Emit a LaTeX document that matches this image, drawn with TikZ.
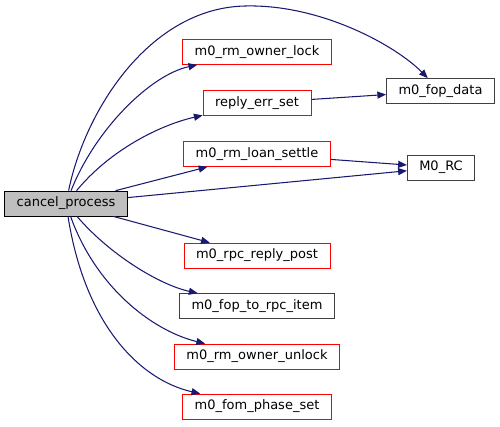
\documentclass[tikz,border=0pt]{standalone}
\usepackage{fontspec}
\setmainfont{DejaVu Sans}
\usepackage{xcolor}
\usetikzlibrary{arrows.meta,positioning,calc}

\definecolor{edgeblue}{HTML}{191970}
\definecolor{boxgray}{HTML}{BFBFBF}

\begin{document}
\begin{tikzpicture}[x=0.02cm, y=-0.02cm,
  every node/.style={draw, rectangle, inner xsep=0.24cm, inner ysep=0pt, minimum height=0.5cm, font=\fontsize{7.4}{9}\selectfont},
  fn/.style={draw=red},
  ext/.style={draw=black!75},
  root/.style={draw=black, fill=boxgray},
  edge/.style={draw=edgeblue, line width=0.6pt, ->, >={Triangle[length=5pt,width=4pt]}}]

\useasboundingbox (0,0) rectangle (500,426);

% Caller
\node[root] (cancel) at (66,203.5) {cancel\_process};

% Callees
\node[fn] (ownerlock) at (257,52) {m0\_rm\_owner\_lock};
\node[fn] (replyerr) at (257,103) {reply\_err\_set};
\node[fn] (loansettle) at (257,154) {m0\_rm\_loan\_settle};
\node[fn] (rpcreply) at (257,255.5) {m0\_rpc\_reply\_post};
\node[ext] (foptorpc) at (257,306) {m0\_fop\_to\_rpc\_item};
\node[fn] (ownerunlock) at (257,356.5) {m0\_rm\_owner\_unlock};
\node[fn] (phaseset) at (257,406.5) {m0\_fom\_phase\_set};

% Leaves
\node[ext] (fopdata) at (440.5,91) {m0\_fop\_data};
\node[ext] (rc) at (441,167.5) {M0\_RC};

% Edges
\draw[edge] (cancel) .. controls (85,110) and (150,8) .. (245,6) .. controls (320,4) and (395,45) .. (fopdata);
\draw[edge] (cancel) .. controls (95,130) and (150,75) .. (ownerlock);
\draw[edge] (cancel) .. controls (110,150) and (160,125) .. (replyerr);
\draw[edge] (cancel) -- (loansettle);
\draw[edge] (cancel) -- (rc);
\draw[edge] (cancel) -- (rpcreply);
\draw[edge] (cancel) .. controls (110,255) and (160,285) .. (foptorpc);
\draw[edge] (cancel) .. controls (95,285) and (150,330) .. (ownerunlock);
\draw[edge] (cancel) .. controls (85,325) and (140,380) .. (phaseset);
\draw[edge] (replyerr) -- (fopdata);
\draw[edge] (loansettle) -- (rc);

\end{tikzpicture}
\end{document}
